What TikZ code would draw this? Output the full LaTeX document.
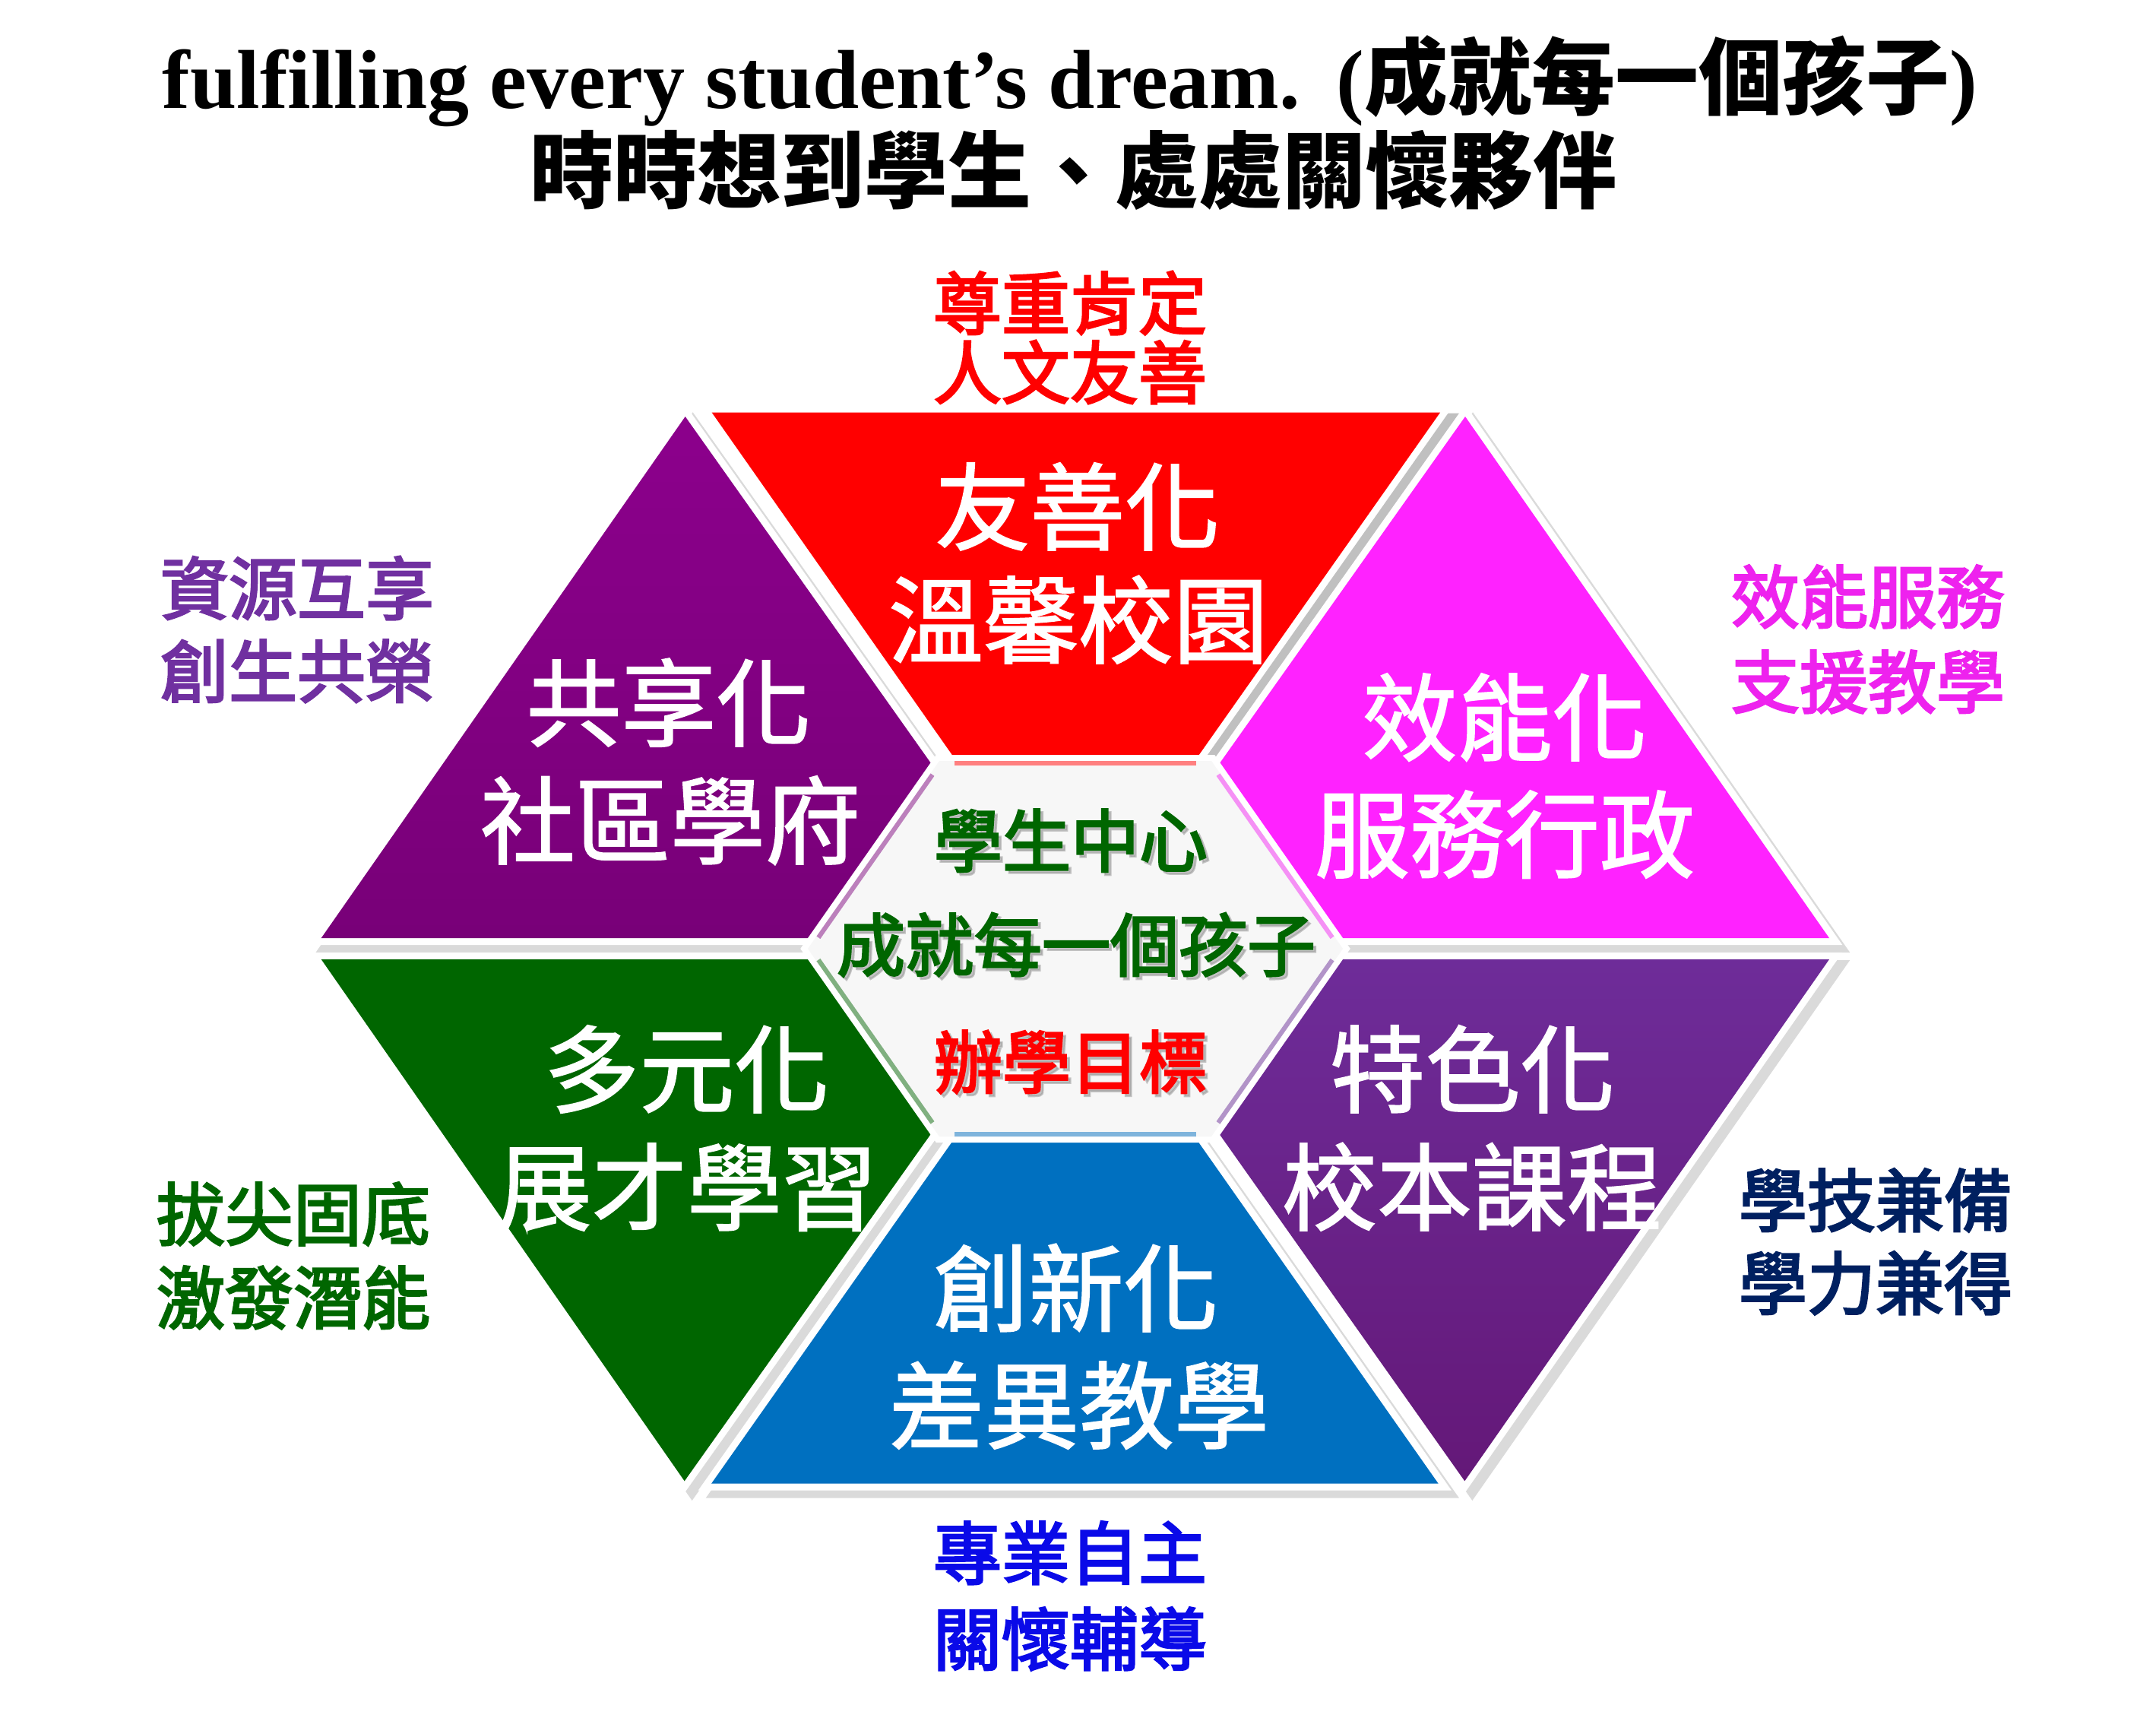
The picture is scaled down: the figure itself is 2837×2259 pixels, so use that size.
\documentclass[tikz,border=0pt]{standalone}
\usepackage{fontspec}
\setmainfont{Liberation Serif}
\newfontfamily\cjk{Noto Sans CJK TC}
\newfontfamily\cjkmed[FakeBold=3]{Noto Sans CJK TC}
\newfontfamily\cjkbig[FakeBold=1.5]{Noto Sans CJK TC}
\usetikzlibrary{calc}
\definecolor{cRed}{HTML}{FF0000}
\definecolor{cPurpleTop}{HTML}{8C008C}
\definecolor{cPurpleBot}{HTML}{780078}
\definecolor{cMag}{HTML}{FF22FF}
\definecolor{cGreen}{HTML}{006600}
\definecolor{cVioTop}{HTML}{6E2C99}
\definecolor{cVioBot}{HTML}{641878}
\definecolor{cBlue}{HTML}{0070C0}
\definecolor{shDark}{HTML}{C0C0C0}
\definecolor{shLight}{HTML}{DADADA}
\definecolor{hexFill}{HTML}{F7F7F7}
\definecolor{bRed}{HTML}{FF8080}
\definecolor{bPurple}{HTML}{BC80BC}
\definecolor{bMag}{HTML}{F590F5}
\definecolor{bGreen}{HTML}{80B080}
\definecolor{bVio}{HTML}{B294C8}
\definecolor{bBlue}{HTML}{7FB4DC}
\definecolor{lPurple}{HTML}{7030A0}
\definecolor{lMag}{HTML}{EE22EE}
\definecolor{lNavy}{HTML}{002060}
\definecolor{lBlue}{HTML}{0A0AE8}
\tikzset{
  lab/.style={font=\cjkmed\fontsize{22.5}{27}\selectfont, anchor=base, inner sep=0pt},
  bigtxt/.style={font=\cjkbig\fontsize{31.25}{37}\selectfont, text=white, anchor=base, inner sep=0pt},
  midtxt/.style={font=\cjkmed\fontsize{22.5}{27}\selectfont, anchor=base, inner sep=0pt},
  tshadow/.style={text=black!40, opacity=0.55},
  whiteborder/.style={fill=white, draw=white, line width=4.5pt},
  shadowpath/.style={fill=#1, draw=#1, line width=4.5pt},
  band/.style={draw=#1, line width=3pt, shorten <=5pt, shorten >=5pt}
}
\begin{document}
\begin{tikzpicture}[x=0.25pt, y=-0.25pt, line join=miter]
\useasboundingbox (0,0) rectangle (2837,2259);
\fill[white] (0,0) rectangle (2837,2259);

% colored shape corners
\coordinate (r1) at (936.7,542.7);  \coordinate (r2) at (1895,542.7);  \coordinate (r3) at (1415,1224);
\coordinate (u1) at (901.7,548);    \coordinate (u2) at (422.7,1234);  \coordinate (u3) at (1388,1234);
\coordinate (m1) at (1928,548);     \coordinate (m2) at (2407,1234);   \coordinate (m3) at (1442,1234);
\coordinate (g1) at (422.7,1262);   \coordinate (g2) at (1388,1262);   \coordinate (g3) at (900.7,1948.3);
\coordinate (v1) at (1442,1262);    \coordinate (v2) at (2407,1262);   \coordinate (v3) at (1927.3,1948.3);
\coordinate (b1) at (1415,1272);    \coordinate (b2) at (1892.7,1951.7); \coordinate (b3) at (936,1951.7);

% shadows
\foreach \a/\b/\c/\s in {r1/r2/r3/shDark, u1/u2/u3/shLight, m1/m2/m3/shLight, g1/g2/g3/shLight, v1/v2/v3/shLight, b1/b2/b3/shLight}
  \filldraw[shadowpath=\s] ([shift={(10,10)}]\a) -- ([shift={(10,10)}]\b) -- ([shift={(10,10)}]\c) -- cycle;
% white borders
\foreach \a/\b/\c in {r1/r2/r3, u1/u2/u3, m1/m2/m3, g1/g2/g3, v1/v2/v3, b1/b2/b3}
  \filldraw[whiteborder] (\a) -- (\b) -- (\c) -- cycle;
% colored fills
\fill[cRed] (r1) -- (r2) -- (r3) -- cycle;
\shade[top color=cPurpleTop, bottom color=cPurpleBot] (u1) -- (u2) -- (u3) -- cycle;
\fill[cMag] (m1) -- (m2) -- (m3) -- cycle;
\fill[cGreen] (g1) -- (g2) -- (g3) -- cycle;
\shade[top color=cVioTop, bottom color=cVioBot] (v1) -- (v2) -- (v3) -- cycle;
\fill[cBlue] (b1) -- (b2) -- (b3) -- cycle;

% center hexagon
\coordinate (hL) at (1063,1248);  \coordinate (hTL) at (1236,1001); \coordinate (hTR) at (1594,1001);
\coordinate (hR) at (1767,1248);  \coordinate (hBR) at (1594,1495); \coordinate (hBL) at (1236,1495);
\draw[white, line width=4pt] (hL) -- (hTL) -- (hTR) -- (hR) -- (hBR) -- (hBL) -- cycle;
\fill[hexFill] (hL) -- (hTL) -- (hTR) -- (hR) -- (hBR) -- (hBL) -- cycle;
\begin{scope}
  \clip (hL) -- (hTL) -- (hTR) -- (hR) -- (hBR) -- (hBL) -- cycle;
  \draw[band=bRed] (hTL) -- (hTR);
  \draw[band=bMag] (hTR) -- (hR);
  \draw[band=bVio] (hR) -- (hBR);
  \draw[band=bBlue] (hBR) -- (hBL);
  \draw[band=bGreen] (hBL) -- (hL);
  \draw[band=bPurple] (hL) -- (hTL);
\end{scope}

% title
\node[anchor=base, inner sep=0pt, font=\bfseries\fontsize{27.5}{33}\selectfont] (t1) at (1408,142)
  {fulfilling every student’s dream.\hspace{12pt}({\cjk 成就每一個孩子})};
\node[anchor=base, inner sep=0pt, font=\cjk\bfseries\fontsize{27.5}{33}\selectfont] (t2) at (1412,265)
  {時時想到學生、處處關懷夥伴};

% outer labels
\node[lab, text=cRed] (lt1) at (1408,433) {尊重肯定};
\node[lab, text=cRed] (lt2) at (1408,524) {人文友善};
\node[lab, text=lPurple] (ll1) at (391,808) {資源互享};
\node[lab, text=lPurple] (ll2) at (391,917) {創生共榮};
\node[lab, text=lMag] (lr1) at (2458,819) {效能服務};
\node[lab, text=lMag] (lr2) at (2458,931) {支援教學};
\node[lab, text=cGreen] (lbl1) at (386,1631) {拔尖固底};
\node[lab, text=cGreen] (lbl2) at (386,1741) {激發潛能};
\node[lab, text=lNavy] (lbr1) at (2468,1613) {學技兼備};
\node[lab, text=lNavy] (lbr2) at (2468,1722) {學力兼得};
\node[lab, text=lBlue] (lb1) at (1408,2077) {專業自主};
\node[lab, text=lBlue] (lb2) at (1408,2190) {關懷輔導};

% shape texts
\node[bigtxt] (sr1) at (1418,714) {友善化};
\node[bigtxt] (sr2) at (1419,863) {溫馨校園};
\node[bigtxt] (su1) at (880,972) {共享化};
\node[bigtxt] (su2) at (882,1127) {社區學府};
\node[bigtxt] (sm1) at (1980,991) {效能化};
\node[bigtxt] (sm2) at (1980,1145) {服務行政};
\node[bigtxt] (sg1) at (904,1454) {多元化};
\node[bigtxt] (sg2) at (904,1609) {展才學習};
\node[bigtxt] (sv1) at (1938,1454) {特色化};
\node[bigtxt] (sv2) at (1937,1609) {校本課程};
\node[bigtxt] (sb1) at (1416,1742) {創新化};
\node[bigtxt] (sb2) at (1420,1896) {差異教學};

% center texts with shadow
\node[midtxt, tshadow] (c1s) at (1413,1144) {學生中心};
\node[midtxt, tshadow] (c2s) at (1420,1281) {成就每一個孩子};
\node[midtxt, tshadow] (c3s) at (1413,1435) {辦學目標};
\node[midtxt, text=cGreen] (c1) at (1409,1140) {學生中心};
\node[midtxt, text=cGreen] (c2) at (1416,1277) {成就每一個孩子};
\node[midtxt, text=cRed] (c3) at (1409,1431) {辦學目標};
\end{tikzpicture}
\end{document}
